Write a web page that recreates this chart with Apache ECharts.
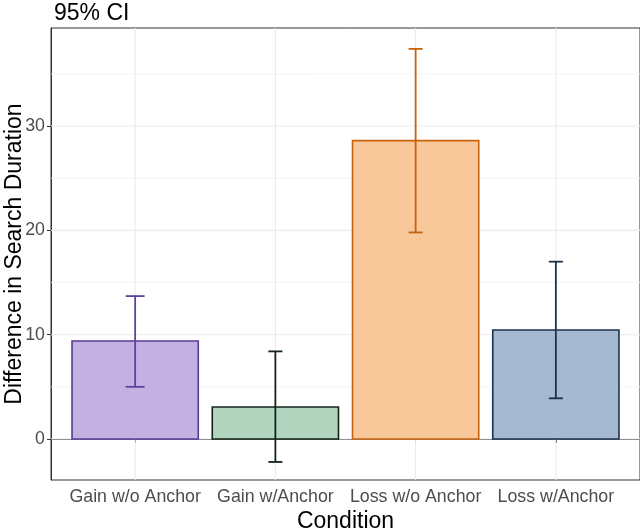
<!DOCTYPE html>
<html>
<head>
<meta charset="utf-8">
<script src="https://cdn.jsdelivr.net/npm/echarts@6/dist/echarts.min.js"></script>
<style>html,body{margin:0;padding:0;background:#fff}#c{width:640px;height:530px}</style>
</head>
<body>
<div id="c"></div>
<script>
const categories = ['Gain w/o Anchor', 'Gain w/Anchor', 'Loss w/o Anchor', 'Loss w/Anchor'];
const means = [9.4, 3.07, 28.6, 10.45];
const lower = [5.0, -2.2, 19.8, 3.9];
const upper = [13.7, 8.4, 37.4, 17.0];
const yTicks = [0, 10, 20, 30];
const yMinor = [5, 15, 25, 35];
const xTicks = [1, 2, 3, 4];

const fills = ['#c2b1e1', '#b1d5be', '#f8c89b', '#a5b9d2'];
const strokes = ['#5a3a98', '#142418', '#c9620c', '#1c314d'];
const errColors = ['#5f43a3', '#142418', '#c9620c', '#1c314d'];
const capWidths = [0.135, 0.1, 0.1, 0.1];

const chart = echarts.init(document.getElementById('c'), null, {renderer: 'canvas'});
const font = 'Liberation Sans, Arial, sans-serif';

const barData = means.map((m, i) => [xTicks[i], m, i]);
const errData = means.map((m, i) => [xTicks[i], lower[i], upper[i], i]);

chart.setOption({
  animation: false,
  title: {
    text: '95% CI', left: 49, top: -3,
    textStyle: {fontFamily: font, fontSize: 23, fontWeight: 'normal', color: '#000'}
  },
  grid: {left: 51, right: 0, top: 28, bottom: 50, containLabel: false, outerBoundsMode: 'none',
    show: true, borderColor: '#333', borderWidth: 1, backgroundColor: '#fff'},
  xAxis: {
    type: 'value', min: 0.4, max: 4.6,
    name: 'Condition', nameLocation: 'middle', nameGap: 30.5, nameMoveOverlap: false,
    nameTextStyle: {fontFamily: font, fontSize: 23, color: '#000'},
    axisLine: {show: true, lineStyle: {color: '#333', width: 1}},
    axisTick: {show: true, length: 4, lineStyle: {color: '#333'}, customValues: xTicks},
    axisLabel: {
      customValues: xTicks, margin: 8, fontFamily: font, fontSize: 17.8, color: '#4d4d4d',
      formatter: v => categories[Math.round(v) - 1]
    },
    splitLine: {show: false}
  },
  yAxis: {
    type: 'value', min: -3.93, max: 39.4,
    name: 'Difference in Search Duration', nameLocation: 'middle', nameGap: 25, nameMoveOverlap: false,
    nameTextStyle: {fontFamily: font, fontSize: 23, color: '#000'},
    axisLine: {show: true, lineStyle: {color: '#333', width: 1}},
    axisTick: {show: true, length: 4, lineStyle: {color: '#333'}, customValues: yTicks},
    axisLabel: {customValues: yTicks, margin: 6, fontFamily: font, fontSize: 17.8, color: '#4d4d4d'},
    splitLine: {show: false}
  },
  series: [
    {
      type: 'custom', name: 'hgrid', z: 1, silent: true,
      data: yTicks.map(v => [v, 1]).concat(yMinor.map(v => [v, 0])),
      renderItem: (params, api) => {
        const cs = params.coordSys;
        const y = api.coord([1, api.value(0)])[1];
        const major = api.value(1) === 1;
        return {type: 'line', shape: {x1: cs.x, y1: y, x2: cs.x + cs.width, y2: y},
          style: {stroke: major ? '#ebebeb' : '#f2f2f2', lineWidth: major ? 1.1 : 0.8}};
      }
    },
    {
      type: 'custom', name: 'vgrid', z: 1, silent: true,
      data: xTicks.map(v => [v]),
      renderItem: (params, api) => {
        const cs = params.coordSys;
        const x = api.coord([api.value(0), 0])[0];
        return {type: 'line', shape: {x1: x, y1: cs.y, x2: x, y2: cs.y + cs.height},
          style: {stroke: '#ebebeb', lineWidth: 1.1}};
      }
    },
    {
      type: 'custom', name: 'bars', z: 3,
      data: barData,
      renderItem: (params, api) => {
        const i = api.value(2);
        const top = api.coord([api.value(0), api.value(1)]);
        const base = api.coord([api.value(0), 0]);
        const w = api.size([0.9, 0])[0];
        return {type: 'rect', shape: {x: top[0] - w / 2, y: top[1], width: w, height: base[1] - top[1]},
          style: {fill: fills[i], stroke: strokes[i], lineWidth: 1.6}};
      }
    },
    {
      type: 'custom', name: 'errors', z: 4,
      data: errData,
      renderItem: (params, api) => {
        const i = api.value(3);
        const lo = api.coord([api.value(0), api.value(1)]);
        const hi = api.coord([api.value(0), api.value(2)]);
        const cw = api.size([capWidths[i], 0])[0];
        const st = {stroke: errColors[i], lineWidth: 1.8};
        return {type: 'group', children: [
          {type: 'line', shape: {x1: lo[0], y1: lo[1], x2: hi[0], y2: hi[1]}, style: st},
          {type: 'line', shape: {x1: lo[0] - cw / 2, y1: lo[1], x2: lo[0] + cw / 2, y2: lo[1]}, style: st},
          {type: 'line', shape: {x1: hi[0] - cw / 2, y1: hi[1], x2: hi[0] + cw / 2, y2: hi[1]}, style: st}
        ]};
      }
    }
  ]
});
</script>
</body>
</html>
